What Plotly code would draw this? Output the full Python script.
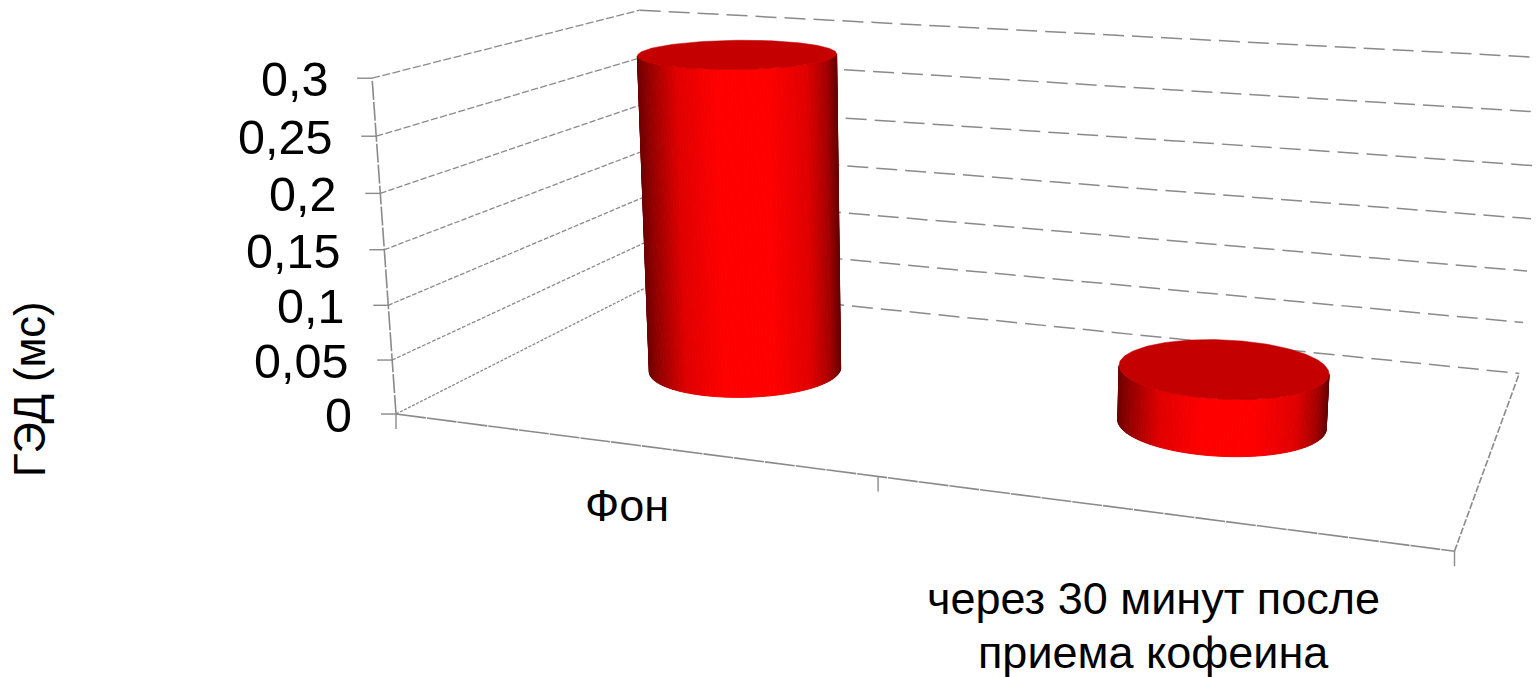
import numpy as np
import plotly.graph_objects as go

# Chart data
categories = ["Фон", "через 30 минут после<br>приема кофеина"]
values = [0.3, 0.05]
z_ticks = [0, 0.05, 0.1, 0.15, 0.2, 0.25, 0.3]
z_tick_labels = ["0", "0,05", "0,1", "0,15", "0,2", "0,25", "0,3"]
axis_title = "ГЭД (мс)"

Z_MAX = 0.3
WIDTH, HEIGHT = 1536, 677
GRAY = "#8a8a8a"
FONT = "Liberation Sans"

# Calibration of the oblique view: (across, depth, height) -> plot position, each in 0..1
VIEW_WORLD = np.array([[0, 0, 0], [1, 0, 0], [1, 1, 0], [0, 1, 0],
                       [0, 0, 1], [0, 1, 1], [1, 1, 1], [0, 0, 0.5]], float)
VIEW_PLOT = np.array([[396, 414], [1455, 550], [1519, 375], [650, 285],
                      [372, 79], [640, 10], [1543, 57], [384, 250]], float)


def solve_view(world, plot):
    rows = []
    for (a, b, c), (px, py) in zip(world, plot / 1000):
        rows.append([a, b, c, 1, 0, 0, 0, 0, -px * a, -px * b, -px * c, -px])
        rows.append([0, 0, 0, 0, a, b, c, 1, -py * a, -py * b, -py * c, -py])
    return np.linalg.svd(np.array(rows))[2][-1].reshape(3, 4)


VIEW = solve_view(VIEW_WORLD, VIEW_PLOT)


def project(u, d, z):
    """Category position u (0..2), depth d (0..1), value z -> plot x, y."""
    u, d, z = np.broadcast_arrays(np.asarray(u, float), np.asarray(d, float), np.asarray(z, float))
    h = np.stack([u / 2, d, z / Z_MAX, np.ones_like(u)], axis=0)
    q = VIEW @ h.reshape(4, -1)
    return q[0] / q[2] * 1000, q[1] / q[2] * 1000


fig = go.Figure()


def segment(p0, p1, dash="solid", width=1.5, color=GRAY):
    x0, y0 = project(*p0)
    x1, y1 = project(*p1)
    fig.add_trace(go.Scatter(x=[x0[0], x1[0]], y=[y0[0], y1[0]], mode="lines",
                             line=dict(color=color, width=width, dash=dash),
                             hoverinfo="skip", showlegend=False))


# Walls: dashes on the side wall get shorter towards the floor
for z in z_ticks:
    on = 3 + 5 * z / Z_MAX
    segment((0, 0, z), (0, 1, z), dash=f"{on:.1f}px,{1.5 + z / Z_MAX:.1f}px", width=1.3)
    segment((0, 1, z), (2, 1, z), dash="21px,8px", width=1.5)

# Box edges
segment((0, 0, 0), (0, 0, Z_MAX), dash="19px,2px", width=1.6)
segment((0, 0, 0), (2, 0, 0), dash="30px,1px", width=1.6)
segment((2, 0, 0), (2, 1, 0), dash="7px,2px", width=1.6)

# Tick marks
for z in z_ticks:
    x, y = project(0, 0, z)
    fig.add_trace(go.Scatter(x=[x[0] - 15, x[0]], y=[y[0], y[0]], mode="lines",
                             line=dict(color=GRAY, width=1.4), hoverinfo="skip", showlegend=False))
for u in [0, 1, 2]:
    x, y = project(u, 0, 0)
    fig.add_trace(go.Scatter(x=[x[0], x[0]], y=[y[0], y[0] + 15], mode="lines",
                             line=dict(color=GRAY, width=1.4), hoverinfo="skip", showlegend=False))

# Cylinders
R_ACROSS, R_DEPTH, BAR_DEPTH = 0.197, 0.187, 0.49
SHADE_POS = [0.0, 0.06, 0.2, 0.4, 0.65, 0.85, 0.95, 1.0]
SHADE_RED = [110, 150, 225, 255, 255, 225, 165, 105]
CAP_COLOR = "#c40000"
THETA = np.linspace(0, 2 * np.pi, 181)


def ring(i, z):
    return project(i + 0.5 + R_ACROSS * np.cos(THETA), BAR_DEPTH + R_DEPTH * np.sin(THETA), np.full_like(THETA, z))


for i, v in enumerate(values):
    bx, by = ring(i, 0)
    tx, ty = ring(i, v)
    left, right = int(np.argmin(bx[:-1])), int(np.argmax(bx[:-1]))
    # Walk the near side of the base from the left silhouette to the right one
    step = 1 if by[(left + 1) % 180] > by[(left - 1) % 180] else -1
    k = left
    while k != right:
        n = (k + step) % 180
        s = ((bx[k] + bx[n]) / 2 - bx[left]) / (bx[right] - bx[left])
        red = int(np.interp(s, SHADE_POS, SHADE_RED))
        col = f"rgb({red},0,0)"
        fig.add_trace(go.Scatter(x=[bx[k], bx[n], tx[n], tx[k], bx[k]],
                                 y=[by[k], by[n], ty[n], ty[k], by[k]],
                                 mode="lines", fill="toself", fillcolor=col,
                                 line=dict(color=col, width=1),
                                 hoverinfo="skip", showlegend=False))
        k = n
    fig.add_trace(go.Scatter(x=tx, y=ty, mode="lines", fill="toself", fillcolor=CAP_COLOR,
                             line=dict(color=CAP_COLOR, width=0.5), hoverinfo="skip", showlegend=False))

# Value labels beside the ticks
annotations = []
for z, label in zip(z_ticks, z_tick_labels):
    x, y = project(0, 0, z)
    annotations.append(dict(x=x[0] - 42, y=y[0] + 1, text=label, xanchor="right", yanchor="middle",
                            showarrow=False, font=dict(family=FONT, size=48.5, color="#000000")))

# Category labels below the floor edge, one annotation per line
LINE_PITCH = 54
for u, label, dx, dy in zip([0.5, 1.5], categories, [0, 1], [62, 86]):
    x, y = project(u, 0, 0)
    for row, part in enumerate(label.split("<br>")):
        annotations.append(dict(x=x[0] + dx, y=y[0] + dy + row * LINE_PITCH, text=part,
                                xanchor="center", yanchor="middle", showarrow=False,
                                font=dict(family=FONT, size=45, color="#000000")))

annotations.append(dict(x=30, y=389, text=axis_title, textangle=-90, xanchor="center", yanchor="middle",
                        showarrow=False, font=dict(family=FONT, size=43.5, color="#000000")))

fig.update_layout(
    width=WIDTH, height=HEIGHT, margin=dict(l=0, r=0, t=0, b=0),
    paper_bgcolor="#ffffff", plot_bgcolor="#ffffff", showlegend=False,
    xaxis=dict(range=[0, WIDTH], visible=False, fixedrange=True),
    yaxis=dict(range=[HEIGHT, 0], visible=False, fixedrange=True),
    annotations=annotations,
)
fig.write_html("out.html", config={"displayModeBar": False})
